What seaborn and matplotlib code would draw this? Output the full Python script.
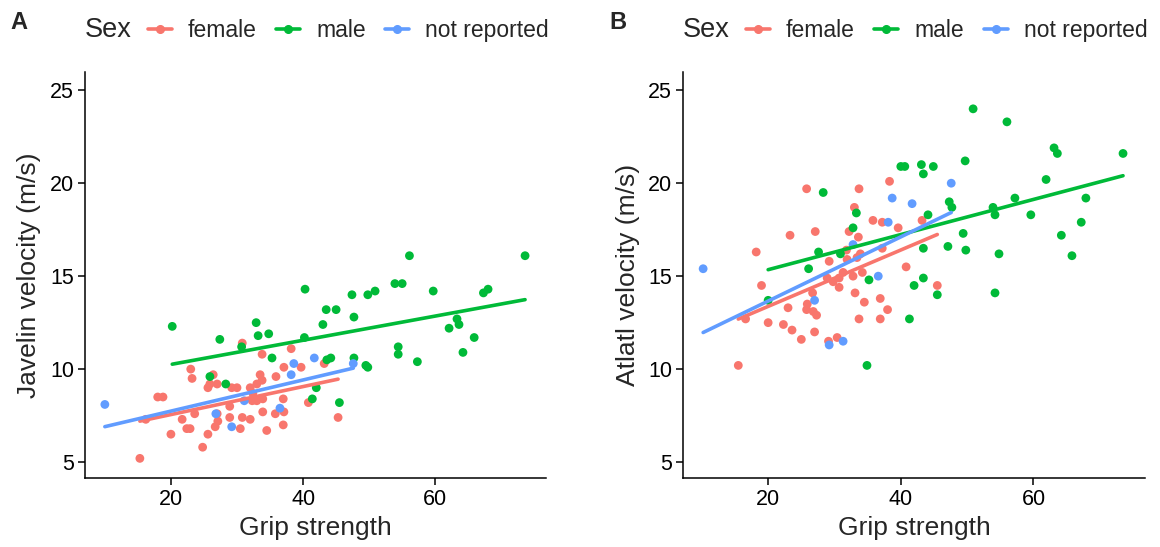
import matplotlib
matplotlib.use("Agg")
import matplotlib.pyplot as plt
from matplotlib.lines import Line2D
import pandas as pd
import seaborn as sns

# ---- data (grip strength vs throw velocity) ----
SEXES = ["female", "male", "not reported"]
COLORS = {"female": "#F8766D", "male": "#00BA38", "not reported": "#619CFF"}

# panel A: javelin
jav_female_grip = [15.3, 16.2, 18.0, 18.8, 20.0, 21.7, 22.4, 22.9, 23.0, 23.2,
                   23.6, 24.8, 25.6, 25.6, 25.9, 26.4, 27.0, 27.0, 27.1, 26.7,
                   28.9, 28.9, 29.2, 30.0, 30.8, 30.8, 30.5, 32.0, 32.4, 33.0,
                   33.5, 33.8, 33.8, 32.0, 32.3, 33.0, 33.9, 33.9, 34.5, 35.9,
                   35.8, 37.1, 37.0, 37.1, 37.0, 38.2, 39.7, 43.2, 40.8, 45.3]
jav_female_vel = [5.2, 7.3, 8.5, 8.5, 6.5, 7.3, 6.8, 6.8, 10.0, 9.5,
                  7.6, 5.8, 6.5, 9.0, 9.2, 9.7, 9.2, 7.6, 7.2, 6.9,
                  8.0, 7.4, 9.0, 9.0, 11.4, 7.4, 6.8, 9.0, 8.7, 9.2,
                  9.7, 9.4, 10.8, 7.3, 8.3, 8.3, 8.4, 7.7, 6.7, 9.6,
                  7.6, 10.1, 8.4, 7.7, 7.0, 11.1, 10.1, 10.3, 8.2, 7.4]
jav_male_grip = [20.2, 27.4, 30.7, 32.9, 33.2, 34.8, 35.3, 25.9, 28.3, 73.6,
                 56.1, 40.3, 47.4, 49.8, 50.9, 53.9, 55.0, 59.7, 67.3, 68.0,
                 43.5, 45.0, 47.7, 43.0, 63.3, 63.6, 62.1, 65.9, 40.2, 54.4,
                 54.4, 64.2, 57.3, 43.6, 44.2, 47.7, 49.5, 49.8, 42.0, 41.4, 45.5]
jav_male_vel = [12.3, 11.6, 11.2, 12.5, 11.8, 11.9, 10.6, 9.6, 9.2, 16.1,
                16.1, 14.3, 14.0, 14.0, 14.2, 14.6, 14.6, 14.2, 14.1, 14.3,
                13.2, 13.2, 12.8, 12.4, 12.7, 12.4, 12.2, 11.7, 11.7, 11.2,
                10.8, 10.9, 10.4, 10.5, 10.6, 10.6, 10.2, 10.1, 9.0, 8.4, 8.2]
jav_nr_grip = [10.0, 26.8, 29.2, 31.1, 36.5, 38.2, 38.6, 41.7, 47.6]
jav_nr_vel = [8.1, 7.6, 6.9, 8.3, 7.9, 9.7, 10.3, 10.6, 10.3]

# panel B: atlatl
atl_female_grip = [15.5, 16.6, 18.2, 19.0, 20.0, 22.3, 23.0, 23.3, 23.6, 25.0,
                   25.8, 25.9, 25.8, 26.7, 26.8, 27.3, 27.0, 27.1, 28.9, 29.1,
                   29.2, 29.8, 30.4, 30.7, 30.7, 31.3, 31.8, 31.9, 32.2, 32.8,
                   33.0, 33.1, 33.4, 33.6, 33.7, 33.7, 33.9, 34.2, 34.5, 35.8,
                   36.9, 36.9, 37.2, 37.2, 38.0, 38.3, 39.6, 40.8, 43.2, 45.5]
atl_female_vel = [10.2, 12.7, 16.3, 14.5, 12.5, 12.4, 13.3, 17.2, 12.1, 11.6,
                  19.7, 13.5, 13.2, 14.1, 13.1, 12.9, 12.0, 17.4, 14.9, 11.5,
                  15.8, 14.7, 11.7, 14.9, 14.4, 15.2, 16.4, 15.9, 17.4, 15.0,
                  18.7, 14.1, 16.0, 17.1, 19.7, 12.7, 16.2, 15.2, 13.6, 18.0,
                  13.8, 12.7, 17.9, 16.5, 13.2, 20.1, 17.6, 15.5, 18.0, 14.5]
atl_male_grip = [20.0, 26.1, 27.6, 28.3, 30.9, 32.8, 33.3, 34.9, 35.2, 40.0,
                 40.6, 41.3, 42.0, 43.1, 43.4, 43.4, 43.4, 44.1, 44.9, 45.5,
                 47.1, 47.3, 47.7, 49.4, 49.7, 49.8, 50.9, 53.9, 54.2, 54.2,
                 54.8, 56.0, 57.2, 59.6, 61.9, 63.1, 63.6, 64.2, 65.8, 67.2,
                 67.9, 73.5]
atl_male_vel = [13.7, 15.4, 16.3, 19.5, 16.2, 17.6, 18.4, 10.2, 14.8, 20.9,
                20.9, 12.7, 14.5, 21.0, 20.5, 16.5, 14.9, 18.3, 20.9, 14.0,
                16.6, 19.0, 18.7, 17.3, 21.2, 16.4, 24.0, 18.7, 18.3, 14.1,
                16.2, 23.3, 19.2, 18.3, 20.2, 21.9, 21.6, 17.2, 16.1, 17.9,
                19.2, 21.6]
atl_nr_grip = [10.2, 27.0, 29.2, 31.3, 32.8, 36.6, 38.1, 38.7, 41.7, 47.6]
atl_nr_vel = [15.4, 13.7, 11.3, 11.5, 16.7, 15.0, 17.9, 19.2, 18.9, 20.0]


def _frame(groups):
    rows = []
    for sex, (xs, ys) in zip(SEXES, groups):
        rows += [(x, y, sex) for x, y in zip(xs, ys)]
    return pd.DataFrame(rows, columns=["grip", "vel", "sex"])


df_jav = _frame([(jav_female_grip, jav_female_vel),
                 (jav_male_grip, jav_male_vel),
                 (jav_nr_grip, jav_nr_vel)])
df_atl = _frame([(atl_female_grip, atl_female_vel),
                 (atl_male_grip, atl_male_vel),
                 (atl_nr_grip, atl_nr_vel)])

sns.set_style("ticks")
plt.rcParams["font.family"] = ["Liberation Sans", "DejaVu Sans"]

fig = plt.figure(figsize=(11.6, 5.47), dpi=100)
ax_a = fig.add_axes([0.0733, 0.126, 0.397, 0.742])
ax_b = fig.add_axes([0.589, 0.126, 0.398, 0.742])


def draw_panel(ax, df, ylabel):
    sns.scatterplot(data=df, x="grip", y="vel", hue="sex", hue_order=SEXES,
                    palette=COLORS, s=40, linewidth=0, legend=False, ax=ax)
    for sex in SEXES:
        sub = df[df["sex"] == sex]
        sns.regplot(data=sub, x="grip", y="vel", scatter=False, ci=None,
                    truncate=True, color=COLORS[sex],
                    line_kws=dict(linewidth=2.6), ax=ax)
    ax.set_ylim(4.14, 25.97)
    ax.set_yticks([5, 10, 15, 20, 25])
    ax.set_xticks([20, 40, 60])
    ax.set_xlabel("Grip strength", fontsize=19, labelpad=4)
    ax.set_ylabel(ylabel, fontsize=19, labelpad=6)
    ax.tick_params(labelsize=15.5, length=5, width=1.1, color="black",
                   labelcolor="black", pad=3)
    for side in ["top", "right"]:
        ax.spines[side].set_visible(False)
    for side in ["left", "bottom"]:
        ax.spines[side].set_color("black")
        ax.spines[side].set_linewidth(1.1)


draw_panel(ax_a, df_jav, "Javelin velocity (m/s)")
draw_panel(ax_b, df_atl, "Atlatl velocity (m/s)")
ax_a.set_xlim(7.0, 76.7)
ax_b.set_xlim(7.2, 76.8)

handles = [Line2D([0], [0], color=COLORS[s], lw=2.6, marker="o",
                  markersize=5.5, label=s) for s in SEXES]
for left, letter in [(0.0733, "A"), (0.589, "B")]:
    fig.text(left - 0.064, 0.958, letter, fontsize=17, fontweight="bold",
             va="center", ha="left")
    fig.text(left, 0.945, "Sex", fontsize=19.5, va="center", ha="left")
    fig.legend(handles=handles, ncol=3, frameon=False, fontsize=16.5,
               loc="center left", bbox_to_anchor=(left + 0.054, 0.945),
               handlelength=1.05, handletextpad=0.7, columnspacing=0.85,
               borderaxespad=0, borderpad=0)

fig.savefig("out.png", dpi=100, facecolor="white")
